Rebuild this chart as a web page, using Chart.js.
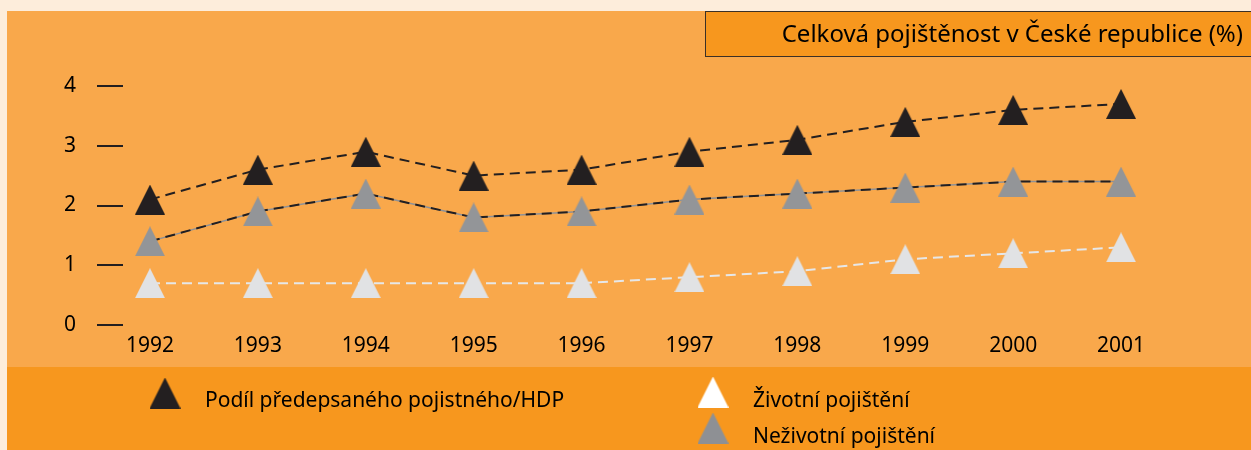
<!DOCTYPE html>
<html>
<head>
<meta charset="utf-8">
<script src="https://cdn.jsdelivr.net/npm/chart.js@4.4.0/dist/chart.umd.min.js"></script>
<style>
  html, body { margin: 0; padding: 0; background: #FDEDDB; }
  #wrap { width: 1251px; height: 450px; position: relative; }
</style>
</head>
<body>
<div id="wrap"><canvas id="myChart"></canvas></div>
<script>
// data
const years = [1992, 1993, 1994, 1995, 1996, 1997, 1998, 1999, 2000, 2001];
const podil = [2.1, 2.6, 2.9, 2.5, 2.6, 2.9, 3.1, 3.4, 3.6, 3.7];
const zivotni = [0.7, 0.7, 0.7, 0.7, 0.7, 0.8, 0.9, 1.1, 1.2, 1.3];
const nezivotni = [1.4, 1.9, 2.2, 1.8, 1.9, 2.1, 2.2, 2.3, 2.4, 2.4];
const yTicks = [0, 1, 2, 3, 4];
const seriesNames = ['Podíl předepsaného pojistného/HDP', 'Životní pojištění', 'Neživotní pojištění'];
const titleText = 'Celková pojištěnost v České republice (%)';

const FONT = '"Noto Sans", "Open Sans", sans-serif';
const BLACK = '#231F20';
const GREY = '#939598';
const LIGHT = '#E1E2E4';

// triangle marker drawn on a small canvas
function triangle(color, w, h) {
  const c = document.createElement('canvas');
  c.width = w; c.height = h;
  const g = c.getContext('2d');
  g.fillStyle = color;
  g.beginPath();
  g.moveTo(w / 2, 0);
  g.lineTo(w, h);
  g.lineTo(0, h);
  g.closePath();
  g.fill();
  return c;
}

function pts(values) {
  return years.map((yr, i) => ({ x: yr, y: values[i] }));
}

const bgPlugin = {
  id: 'bg',
  beforeDraw(chart) {
    const ctx = chart.ctx;
    ctx.save();
    ctx.fillStyle = '#FDEDDB';
    ctx.fillRect(0, 0, chart.width, chart.height);
    ctx.fillStyle = '#F9A84B';
    ctx.fillRect(7, 11, chart.width - 7, 356);
    ctx.fillStyle = '#F7971E';
    ctx.fillRect(7, 367, chart.width - 7, chart.height - 367);
    // title box
    ctx.fillRect(705.5, 11.5, chart.width, 45);
    ctx.strokeStyle = '#3B3026';
    ctx.lineWidth = 1;
    ctx.strokeRect(705.5, 11.5, chart.width, 45);
    ctx.fillStyle = '#000';
    ctx.font = '24px ' + FONT;
    ctx.textAlign = 'right';
    ctx.textBaseline = 'alphabetic';
    ctx.fillText(titleText, 1243, 42);
    ctx.restore();
  },
  afterDraw(chart) {
    // legend
    const ctx = chart.ctx;
    const items = [
      { ds: 0, x: 165, y: 393, base: 407 },
      { ds: 1, x: 713, y: 392, base: 407 },
      { ds: 2, x: 713, y: 428, base: 443 }
    ];
    ctx.save();
    ctx.font = '21px ' + FONT;
    ctx.textAlign = 'left';
    ctx.textBaseline = 'alphabetic';
    ctx.fillStyle = '#000';
    items.forEach(it => {
      const color = chart.data.datasets[it.ds].markerColor;
      const img = triangle(color, 31, 31);
      ctx.drawImage(img, it.x - 15.5, it.y - 15.5);
      ctx.fillText(seriesNames[it.ds], it.x + 40, it.base);
    });
    ctx.restore();
  }
};

const ctx = document.getElementById('myChart');

const myChart = new Chart(ctx, {
  type: 'line',
  data: {
    datasets: [
      {
        label: seriesNames[0],
        data: pts(podil),
        markerColor: BLACK,
        borderColor: BLACK,
        borderWidth: 2,
        borderDash: [10, 6],
        pointStyle: triangle(BLACK, 30, 30),
        order: 1
      },
      {
        label: seriesNames[1],
        data: pts(zivotni),
        markerColor: '#FFFFFF',
        borderColor: '#E6E7E8',
        borderWidth: 2,
        borderDash: [10, 6],
        pointStyle: triangle(LIGHT, 30, 30),
        order: 1
      },
      {
        // grey markers only
        label: seriesNames[2],
        data: pts(nezivotni),
        markerColor: '#8E9094',
        showLine: false,
        pointStyle: triangle(GREY, 30, 30),
        order: 1
      },
      {
        // black dashes over the grey line
        label: seriesNames[2] + ' dash',
        data: pts(nezivotni),
        borderColor: BLACK,
        borderWidth: 2,
        borderDash: [10, 6],
        pointRadius: 0,
        order: 3
      },
      {
        // thin grey line underneath
        label: seriesNames[2] + ' line',
        data: pts(nezivotni),
        borderColor: '#8F9195',
        borderWidth: 1.5,
        pointRadius: 0,
        order: 4
      }
    ]
  },
  options: {
    responsive: true,
    maintainAspectRatio: false,
    animation: false,
    layout: { padding: { top: 86, right: 76, bottom: 0, left: 0 } },
    elements: { line: { tension: 0, fill: false }, point: { radius: 15, hoverRadius: 15 } },
    plugins: {
      legend: { display: false },
      tooltip: { enabled: false },
      title: { display: false }
    },
    scales: {
      x: {
        type: 'linear',
        min: 1991.75,
        max: 2001.5,
        afterFit: s => { s.height = 125; },
        afterBuildTicks: s => { s.ticks = years.map(v => ({ value: v })); },
        grid: { display: false, drawTicks: false },
        border: { display: false },
        ticks: {
          autoSkip: false,
          maxRotation: 0,
          padding: 8,
          color: '#000',
          font: { family: FONT, size: 21 },
          callback: v => String(v)
        }
      },
      y: {
        min: 0,
        max: 4,
        afterFit: s => { s.width = 123; },
        afterBuildTicks: s => { s.ticks = yTicks.map(v => ({ value: v })); },
        grid: { drawOnChartArea: false, drawTicks: true, tickLength: 26, color: BLACK, lineWidth: 2 },
        border: { display: false },
        ticks: {
          padding: 21,
          color: '#000',
          font: { family: FONT, size: 21 }
        }
      }
    }
  },
  plugins: [bgPlugin]
});
</script>
</body>
</html>
